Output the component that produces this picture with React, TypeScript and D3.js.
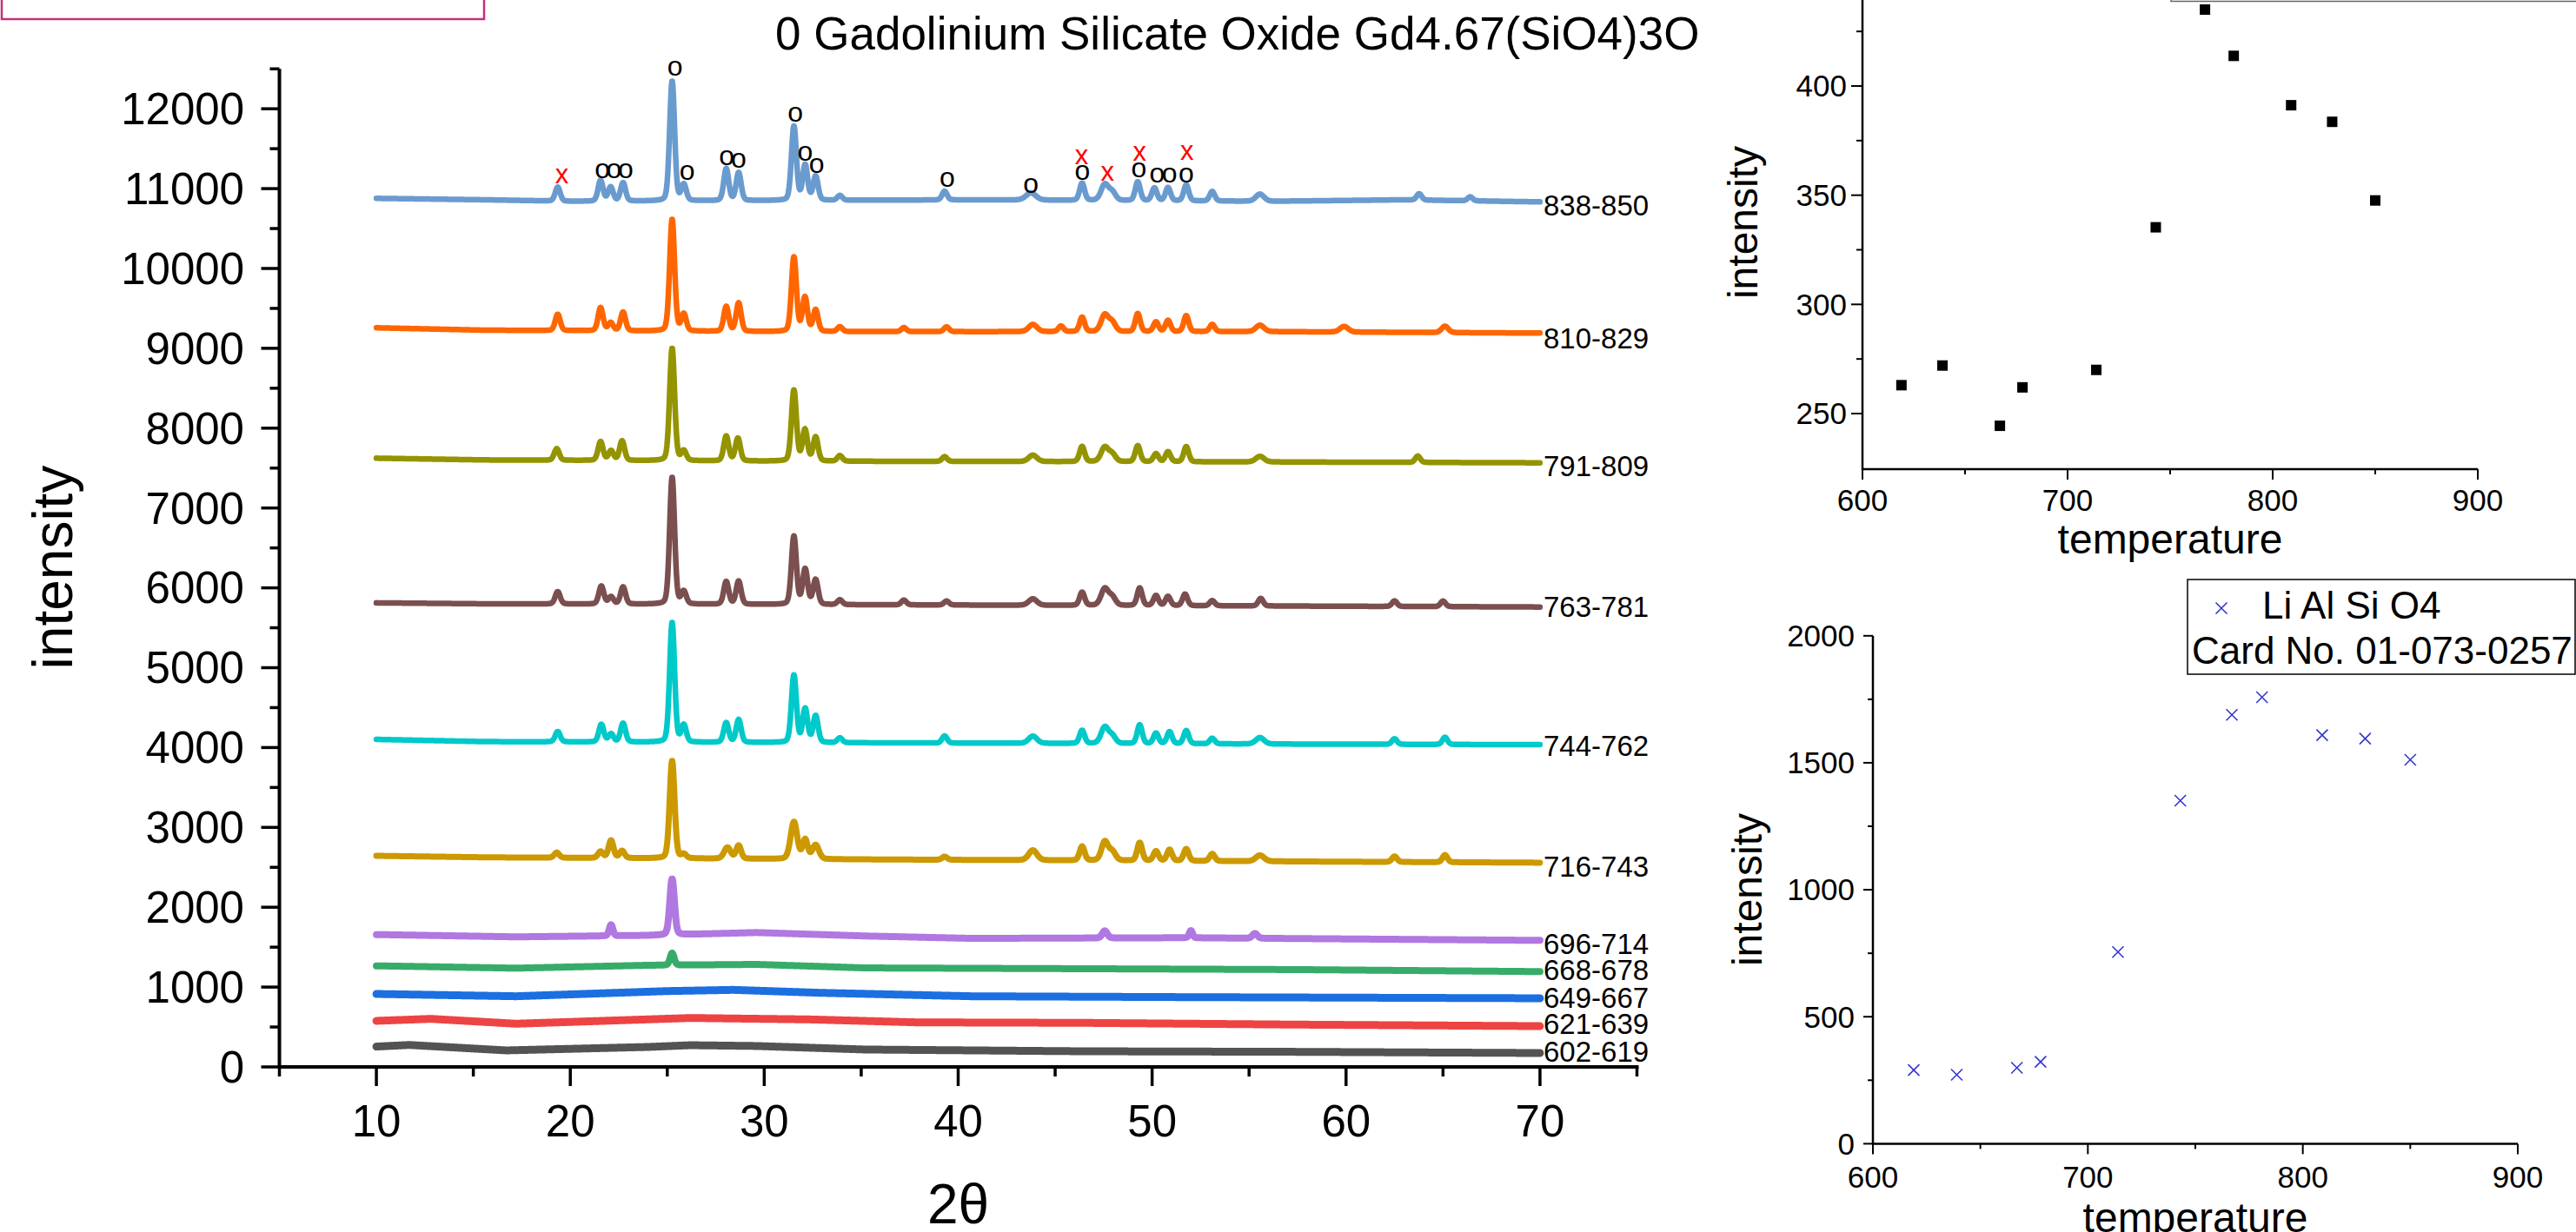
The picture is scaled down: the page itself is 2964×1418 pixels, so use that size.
import React from 'react';
import * as d3 from 'd3';

const W = 2964;
const H = 1418;
const FONT = '"Liberation Sans", Arial, Helvetica, sans-serif';

// ---------- main XRD chart data ----------
const xTicksMain = [10, 20, 30, 40, 50, 60, 70];
const xMinorMain = [5, 15, 25, 35, 45, 55, 65, 75];
const yTicksMain = [0, 1000, 2000, 3000, 4000, 5000, 6000, 7000, 8000, 9000, 10000, 11000, 12000];
const yMinorMain = [500, 1500, 2500, 3500, 4500, 5500, 6500, 7500, 8500, 9500, 10500, 11500, 12500];

const seriesLabels = ['602-619', '621-639', '649-667', '668-678', '696-714', '716-743', '744-762', '763-781', '791-809', '810-829', '838-850'];
const seriesColors = ['#535353', '#ee4343', '#1b6fe0', '#37ac6a', '#b078e0', '#cc9900', '#00c9c9', '#7b4f4f', '#949400', '#ff6600', '#6a9bcf'];
const seriesWidths = [9, 9, 9, 8, 8, 7, 6.5, 6.5, 6.5, 6.5, 6.5];
const labelAt = [65, 413, 740, 1088, 1415, 2383, 3896, 5637, 7399, 8999, 10664];

// baseline control points [2theta, intensity]
const base602 = [[10, 255], [11.7, 275], [16.7, 207], [24, 250], [26.2, 272], [29.6, 262], [35.2, 218], [46.4, 196], [57.5, 189], [70, 174]];
const base621 = [[10, 577], [12.8, 602], [17.2, 541], [26.2, 613], [32.3, 595], [37.9, 558], [46.4, 552], [57.5, 530], [70, 511]];
const base649 = [[10, 914], [17.2, 885], [25, 950], [28.4, 965], [32.9, 928], [40.7, 885], [51.8, 874], [70, 860]];
const base668 = [[10, 1266], [17.2, 1237], [24, 1273], [29.6, 1284], [35.2, 1240], [46.4, 1230], [57.5, 1219], [70, 1194]];
const base696 = [[10, 1658], [17.2, 1629], [24, 1647], [29.6, 1683], [35.2, 1640], [40.7, 1610], [51.8, 1618], [70, 1585]];
const base716 = [[10, 2644], [15.6, 2625], [30, 2605], [56, 2575], [70, 2558]];
const base744 = [[10, 4102], [15.6, 4074], [30, 4063], [56, 4044], [70, 4036]];
const base763 = [[10, 5812], [15.6, 5800], [30, 5792], [56, 5773], [70, 5760]];
const base791 = [[10, 7624], [15.6, 7602], [30, 7587], [56, 7577], [70, 7566]];
const base810 = [[10, 9257], [15.6, 9227], [30, 9209], [56, 9209], [70, 9191]];
const base838 = [[10, 10878], [15.6, 10860], [20, 10841], [41, 10860], [56, 10841], [63, 10860], [70, 10834]];

// peaks [2theta, height above baseline, fwhm(optional)]
const peaks602: number[][] = [];
const peaks621: number[][] = [];
const peaks649: number[][] = [];
const peaks668 = [[25.25, 150, 0.25]];
const peaks696 = [[22.1, 140, 0.22], [25.25, 700, 0.28], [47.56, 90], [52.0, 90, 0.2], [55.3, 60]];
const peaks716 = [[19.3, 65], [21.56, 80], [22.1, 220], [22.67, 90], [25.25, 1225], [25.85, 50], [28.1, 140, 0.4], [28.68, 165], [31.53, 465, 0.4], [32.11, 240], [32.65, 175, 0.4], [39.3, 40], [43.85, 125, 0.5], [46.39, 175], [47.56, 235, 0.4], [47.95, 110, 0.4], [49.36, 225], [50.2, 120], [50.9, 140], [51.76, 150], [53.1, 90], [55.56, 75, 0.5], [62.5, 70], [65.1, 90]];
const peaks744 = [[19.35, 130], [21.6, 220], [22.1, 100], [22.72, 235], [25.25, 1500], [25.85, 210], [28.04, 245], [28.68, 285], [31.53, 845], [32.11, 420], [32.65, 335], [33.9, 60], [39.3, 90], [43.85, 90, 0.5], [46.39, 165], [47.56, 205, 0.45], [47.95, 90, 0.4], [49.36, 235], [50.2, 130], [50.9, 150], [51.76, 165], [53.1, 70], [55.56, 80, 0.5], [62.5, 70], [65.1, 90]];
const peaks763 = [[19.35, 155], [21.6, 225], [22.1, 90], [22.72, 215], [25.25, 1590], [25.85, 155], [28.04, 285], [28.68, 290], [31.53, 855], [32.11, 440], [32.65, 310], [33.9, 60], [37.2, 60], [39.4, 50], [43.85, 80, 0.5], [46.39, 165], [47.56, 210, 0.45], [47.95, 100, 0.4], [49.36, 220], [50.2, 125], [50.82, 115], [51.7, 145], [53.1, 65], [55.6, 95], [62.5, 70], [65, 70]];
const peaks791 = [[19.3, 145], [21.56, 235], [22.1, 120], [22.67, 245], [25.25, 1410], [25.85, 120], [28.04, 310], [28.64, 285], [31.53, 890], [32.1, 390], [32.65, 300], [33.9, 70], [39.3, 60], [43.85, 80, 0.5], [46.39, 190], [47.56, 180, 0.45], [47.95, 90, 0.4], [49.26, 200], [50.2, 100], [50.82, 125], [51.76, 190], [55.56, 70, 0.5], [63.7, 80]];
const peaks810 = [[19.35, 205], [21.56, 290], [22.08, 100], [22.72, 235], [25.25, 1400], [25.85, 210], [28.04, 310], [28.68, 356], [31.53, 933], [32.1, 425], [32.65, 270], [33.9, 60], [37.2, 50], [39.4, 60], [43.85, 90, 0.5], [45.3, 70], [46.39, 180], [47.56, 210, 0.45], [47.95, 110, 0.4], [49.26, 225], [50.2, 120], [50.82, 140], [51.76, 200], [53.1, 90], [55.56, 80, 0.5], [59.9, 70, 0.5], [65.1, 80, 0.4]];
const peaks838 = [[19.35, 175], [21.56, 260], [22.08, 175], [22.72, 230], [25.25, 1500], [25.85, 200], [28.04, 400], [28.68, 350], [31.53, 930], [32.11, 440], [32.65, 300], [33.9, 60], [39.3, 110], [43.75, 90, 0.6], [46.39, 215], [47.56, 200, 0.45], [47.95, 100, 0.4], [49.26, 235], [50.12, 160], [50.82, 165], [51.76, 200], [53.1, 120], [55.56, 90, 0.5], [63.77, 80], [66.4, 50]];

const baselines = [base602, base621, base649, base668, base696, base716, base744, base763, base791, base810, base838];
const peakSets = [peaks602, peaks621, peaks649, peaks668, peaks696, peaks716, peaks744, peaks763, peaks791, peaks810, peaks838];

// phase annotations on top pattern [2theta, intensity]
const markO = [[21.65, 11222], [22.25, 11222], [22.85, 11222], [25.4, 12500], [26.02, 11194], [28.06, 11385], [28.68, 11346], [31.6, 11923], [32.11, 11440], [32.7, 11284], [39.43, 11107], [43.75, 11034], [46.4, 11194], [49.32, 11233], [50.26, 11168], [50.9, 11168], [51.76, 11168]];
const markX = [[19.57, 11150], [46.36, 11396], [47.7, 11186], [49.36, 11433], [51.8, 11447]];

// ---------- right panels data ----------
const temps = [619, 639, 667, 678, 714, 743, 767, 781, 809, 829, 850];
const gdIntensity = [263, 272, 244.4, 262, 270, 335.3, 435, 413.8, 391.2, 383.6, 347.6];
const liIntensity = [290, 271.5, 299, 322.5, 755, 1351, 1689, 1758, 1609, 1595, 1512];
const tempTicks = [600, 700, 800, 900];
const tempMinor = [650, 750, 850];
const gdTicks = [250, 300, 350, 400, 450];
const gdMinor = [275, 325, 375, 425];
const liTicks = [0, 500, 1000, 1500, 2000];
const liMinor = [250, 750, 1250, 1750];

// ---------- scales ----------
const xMain = d3.scaleLinear().domain([5, 75]).range([321.5, 1883.5]);
const yMain = d3.scaleLinear().domain([0, 12500]).range([1228, 79.25]);
const xTop = d3.scaleLinear().domain([600, 900]).range([2143, 2851]);
const yTop = d3.scaleLinear().domain([250, 400]).range([476, 99]);
const xBot = d3.scaleLinear().domain([600, 900]).range([2155, 2897]);
const yBot = d3.scaleLinear().domain([0, 2000]).range([1316.4, 731.8]);

function buildPattern(base: number[][], peaks: number[][]) {
  const bl = d3.scaleLinear().domain(base.map(d => d[0])).range(base.map(d => d[1]));
  const xs = d3.range(10, 70.0001, 0.02);
  return xs.map(x => {
    let v = bl(x);
    for (const p of peaks) {
      const f = p[2] ?? 0.3;
      const t = (x - p[0]) / f;
      const g = Math.exp(-4 * Math.LN2 * t * t);
      const l = 1 / (1 + 4 * t * t);
      v += p[1] * (0.8 * g + 0.2 * l);
    }
    return [x, v] as [number, number];
  });
}

const lineMain = d3.line<[number, number]>().x(d => xMain(d[0])).y(d => yMain(d[1]));

export default function App() {
  const patterns = baselines.map((b, i) => buildPattern(b, peakSets[i]));
  const xAxisY = yMain(0);
  const yAxisX = xMain(5);

  const crossPath = (cx: number, cy: number, s: number) =>
    `M${cx - s},${cy - s}L${cx + s},${cy + s}M${cx - s},${cy + s}L${cx + s},${cy - s}`;

  return (
    <svg width={W} height={H} viewBox={`0 0 ${W} ${H}`} style={{ position: 'absolute', left: 0, top: 0, background: '#fff' }} fontFamily={FONT}>
      <rect x={0} y={0} width={W} height={H} fill="#fff" />
      {/* pink box top-left */}
      <rect x={2} y={-20} width={555} height={42} fill="none" stroke="#c8307c" strokeWidth={2.5} />

      {/* title */}
      <text x={892} y={57} fontSize={53} fill="#000">0 Gadolinium Silicate Oxide Gd4.67(SiO4)3O</text>

      {/* main patterns */}
      {patterns.map((p, i) => (
        <path key={i} d={lineMain(p) || ''} fill="none" stroke={seriesColors[i]} strokeWidth={seriesWidths[i]} strokeLinejoin="round" strokeLinecap="round" />
      ))}
      {seriesLabels.map((s, i) => (
        <text key={s} x={1776} y={yMain(labelAt[i])} fontSize={33} fill="#000">{s}</text>
      ))}
      {markO.map((m, i) => (
        <text key={'o' + i} x={xMain(m[0])} y={yMain(m[1]) + 8} fontSize={32} textAnchor="middle" fill="#000">o</text>
      ))}
      {markX.map((m, i) => (
        <text key={'x' + i} x={xMain(m[0])} y={yMain(m[1]) + 8} fontSize={31} textAnchor="middle" fill="#ff0000">x</text>
      ))}

      {/* main axes */}
      <line x1={yAxisX} x2={yAxisX} y1={yMain(12500)} y2={xAxisY + 2} stroke="#000" strokeWidth={4} />
      <line x1={xMain(5) - 2} x2={xMain(75) + 2} y1={xAxisY} y2={xAxisY} stroke="#000" strokeWidth={4} />
      {yTicksMain.map(t => (
        <g key={'yt' + t}>
          <line x1={yAxisX - 21} x2={yAxisX} y1={yMain(t)} y2={yMain(t)} stroke="#000" strokeWidth={3.5} />
          <text x={281} y={yMain(t)} dy="0.35em" fontSize={51} textAnchor="end" fill="#000">{t}</text>
        </g>
      ))}
      {yMinorMain.map(t => (
        <line key={'ym' + t} x1={yAxisX - 11} x2={yAxisX} y1={yMain(t)} y2={yMain(t)} stroke="#000" strokeWidth={3.5} />
      ))}
      {xTicksMain.map(t => (
        <g key={'xt' + t}>
          <line x1={xMain(t)} x2={xMain(t)} y1={xAxisY} y2={xAxisY + 22} stroke="#000" strokeWidth={3.5} />
          <text x={xMain(t)} y={1308} fontSize={51} textAnchor="middle" fill="#000">{t}</text>
        </g>
      ))}
      {xMinorMain.map(t => (
        <line key={'xm' + t} x1={xMain(t)} x2={xMain(t)} y1={xAxisY} y2={xAxisY + 11} stroke="#000" strokeWidth={3.5} />
      ))}
      <text x={(xMain(5) + xMain(75)) / 2} y={1408} fontSize={64} textAnchor="middle" fill="#000">2θ</text>
      <text transform={`translate(83,653) rotate(-90)`} fontSize={64} textAnchor="middle" fill="#000">intensity</text>

      {/* top-right panel */}
      <rect x={2498} y={-60} width={470} height={61.5} fill="#fff" stroke="#666" strokeWidth={1.5} />
      <line x1={xTop(600)} x2={xTop(600)} y1={-10} y2={541} stroke="#000" strokeWidth={2.5} />
      <line x1={xTop(600) - 1} x2={xTop(900)} y1={540} y2={540} stroke="#000" strokeWidth={2.5} />
      {gdTicks.map(t => (
        <g key={'gt' + t}>
          <line x1={xTop(600) - 13} x2={xTop(600)} y1={yTop(t)} y2={yTop(t)} stroke="#000" strokeWidth={2} />
          <text x={2125} y={yTop(t)} dy="0.35em" fontSize={35} textAnchor="end" fill="#000">{t}</text>
        </g>
      ))}
      {gdMinor.map(t => (
        <line key={'gm' + t} x1={xTop(600) - 7} x2={xTop(600)} y1={yTop(t)} y2={yTop(t)} stroke="#000" strokeWidth={2} />
      ))}
      {tempTicks.map(t => (
        <g key={'tt' + t}>
          <line x1={xTop(t)} x2={xTop(t)} y1={540} y2={552} stroke="#000" strokeWidth={2} />
          <text x={xTop(t)} y={588} fontSize={35} textAnchor="middle" fill="#000">{t}</text>
        </g>
      ))}
      {tempMinor.map(t => (
        <line key={'tm' + t} x1={xTop(t)} x2={xTop(t)} y1={540} y2={546} stroke="#000" strokeWidth={2} />
      ))}
      {temps.map((t, i) => (
        <rect key={'sq' + i} x={xTop(t) - 6} y={yTop(gdIntensity[i]) - 6} width={12} height={12} fill="#000" />
      ))}
      <text x={(xTop(600) + xTop(900)) / 2} y={637} fontSize={48} textAnchor="middle" fill="#000">temperature</text>
      <text transform={`translate(2022,256) rotate(-90)`} fontSize={48} textAnchor="middle" fill="#000">intensity</text>

      {/* bottom-right panel */}
      <line x1={xBot(600)} x2={xBot(600)} y1={yBot(2000)} y2={yBot(0) + 1} stroke="#000" strokeWidth={2.5} />
      <line x1={xBot(600) - 1} x2={xBot(900)} y1={yBot(0)} y2={yBot(0)} stroke="#000" strokeWidth={2.5} />
      {liTicks.map(t => (
        <g key={'lt' + t}>
          <line x1={xBot(600) - 11} x2={xBot(600)} y1={yBot(t)} y2={yBot(t)} stroke="#000" strokeWidth={2} />
          <text x={2134} y={yBot(t)} dy="0.35em" fontSize={35} textAnchor="end" fill="#000">{t}</text>
        </g>
      ))}
      {liMinor.map(t => (
        <line key={'lm' + t} x1={xBot(600) - 6} x2={xBot(600)} y1={yBot(t)} y2={yBot(t)} stroke="#000" strokeWidth={2} />
      ))}
      {tempTicks.map(t => (
        <g key={'bt' + t}>
          <line x1={xBot(t)} x2={xBot(t)} y1={yBot(0)} y2={yBot(0) + 12} stroke="#000" strokeWidth={2} />
          <text x={xBot(t)} y={1367} fontSize={35} textAnchor="middle" fill="#000">{t}</text>
        </g>
      ))}
      {tempMinor.map(t => (
        <line key={'bm' + t} x1={xBot(t)} x2={xBot(t)} y1={yBot(0)} y2={yBot(0) + 6} stroke="#000" strokeWidth={2} />
      ))}
      {temps.map((t, i) => (
        <path key={'cr' + i} d={crossPath(xBot(t), yBot(liIntensity[i]), 6.5)} stroke="#3535cc" strokeWidth={1.6} fill="none" />
      ))}
      <text x={(xBot(600) + xBot(900)) / 2} y={1418} fontSize={48} textAnchor="middle" fill="#000">temperature</text>
      <text transform={`translate(2027,1024) rotate(-90)`} fontSize={48} textAnchor="middle" fill="#000">intensity</text>
      {/* legend */}
      <rect x={2517} y={667} width={446} height={109} fill="#fff" stroke="#000" strokeWidth={1.5} />
      <path d={crossPath(2556, 700, 6.5)} stroke="#3535cc" strokeWidth={1.6} fill="none" />
      <text x={2603} y={712} fontSize={44} fill="#000">Li Al Si O4</text>
      <text x={2522} y={764} fontSize={44} fill="#000">Card No. 01-073-0257</text>
    </svg>
  );
}
